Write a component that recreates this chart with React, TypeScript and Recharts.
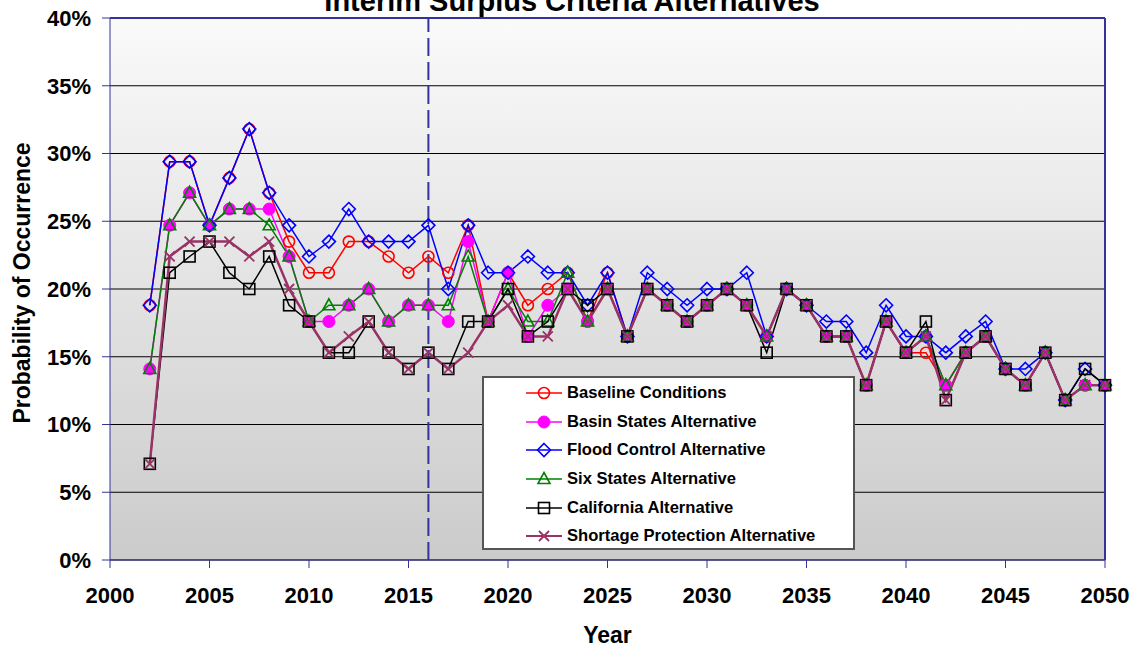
import React from "react";
import {
  CartesianGrid,
  Legend,
  Line,
  LineChart,
  ReferenceLine,
  XAxis,
  YAxis,
} from "recharts";

// years 2002 - 2050, probability in percent
const years = Array.from({ length: 49 }, (_, i) => 2002 + i);

const baseline = [
  18.8, 29.4, 29.4, 24.7, 28.2, 31.8, 27.1, 23.5, 21.2, 21.2, 23.5, 23.5, 22.4,
  21.2, 22.4, 21.2, 24.7, 17.6, 21.2, 18.8, 20.0, 21.2, 17.6, 21.2, 16.5, 20.0,
  18.8, 17.6, 18.8, 20.0, 18.8, 16.5, 20.0, 18.8, 16.5, 16.5, 12.9, 17.6, 15.3,
  15.3, 12.9, 15.3, 16.5, 14.1, 12.9, 15.3, 11.8, 12.9, 12.9,
];
const basinStates = [
  14.1, 24.7, 27.1, 24.7, 25.9, 25.9, 25.9, 22.4, 17.6, 17.6, 18.8, 20.0, 17.6,
  18.8, 18.8, 17.6, 23.5, 17.6, 21.2, 16.5, 18.8, 20.0, 17.6, 20.0, 16.5, 20.0,
  18.8, 17.6, 18.8, 20.0, 18.8, 16.5, 20.0, 18.8, 16.5, 16.5, 12.9, 17.6, 15.3,
  16.5, 12.9, 15.3, 16.5, 14.1, 12.9, 15.3, 11.8, 12.9, 12.9,
];
const floodControl = [
  18.8, 29.4, 29.4, 24.7, 28.2, 31.8, 27.1, 24.7, 22.4, 23.5, 25.9, 23.5, 23.5,
  23.5, 24.7, 20.0, 24.7, 21.2, 21.2, 22.4, 21.2, 21.2, 18.8, 21.2, 16.5, 21.2,
  20.0, 18.8, 20.0, 20.0, 21.2, 16.5, 20.0, 18.8, 17.6, 17.6, 15.3, 18.8, 16.5,
  16.5, 15.3, 16.5, 17.6, 14.1, 14.1, 15.3, 11.8, 14.1, 12.9,
];
const sixStates = [
  14.1, 24.7, 27.1, 24.7, 25.9, 25.9, 24.7, 22.4, 17.6, 18.8, 18.8, 20.0, 17.6,
  18.8, 18.8, 18.8, 22.4, 17.6, 20.0, 17.6, 17.6, 21.2, 17.6, 20.0, 16.5, 20.0,
  18.8, 17.6, 18.8, 20.0, 18.8, 16.5, 20.0, 18.8, 16.5, 16.5, 12.9, 17.6, 15.3,
  16.5, 12.9, 15.3, 16.5, 14.1, 12.9, 15.3, 11.8, 12.9, 12.9,
];
const california = [
  7.1, 21.2, 22.4, 23.5, 21.2, 20.0, 22.4, 18.8, 17.6, 15.3, 15.3, 17.6, 15.3,
  14.1, 15.3, 14.1, 17.6, 17.6, 20.0, 16.5, 17.6, 20.0, 18.8, 20.0, 16.5, 20.0,
  18.8, 17.6, 18.8, 20.0, 18.8, 15.3, 20.0, 18.8, 16.5, 16.5, 12.9, 17.6, 15.3,
  17.6, 11.8, 15.3, 16.5, 14.1, 12.9, 15.3, 11.8, 14.1, 12.9,
];
const shortage = [
  7.1, 22.4, 23.5, 23.5, 23.5, 22.4, 23.5, 20.0, 17.6, 15.3, 16.5, 17.6, 15.3,
  14.1, 15.3, 14.1, 15.3, 17.6, 18.8, 16.5, 16.5, 20.0, 17.6, 20.0, 16.5, 20.0,
  18.8, 17.6, 18.8, 20.0, 18.8, 16.5, 20.0, 18.8, 16.5, 16.5, 12.9, 17.6, 15.3,
  16.5, 11.8, 15.3, 16.5, 14.1, 12.9, 15.3, 11.8, 12.9, 12.9,
];

const xTicks = [2000, 2005, 2010, 2015, 2020, 2025, 2030, 2035, 2040, 2045, 2050];
const yTicks = [0, 5, 10, 15, 20, 25, 30, 35, 40];

const series = [
  { key: "baseline", name: "Baseline Conditions", color: "#ff0000", shape: "circle", width: 1.5 },
  { key: "basin", name: "Basin States Alternative", color: "#ff00ff", shape: "dot", width: 1.5 },
  { key: "flood", name: "Flood Control Alternative", color: "#0000ff", shape: "diamond", width: 1.5 },
  { key: "six", name: "Six States Alternative", color: "#008000", shape: "triangle", width: 1.5 },
  { key: "california", name: "California Alternative", color: "#000000", shape: "square", width: 1.5 },
  { key: "shortage", name: "Shortage Protection Alternative", color: "#993366", shape: "cross", width: 2.5 },
];

const data = years.map((year, i) => ({
  year,
  baseline: baseline[i],
  basin: basinStates[i],
  flood: floodControl[i],
  six: sixStates[i],
  california: california[i],
  shortage: shortage[i],
}));

const FONT = "Arial, 'Liberation Sans', sans-serif";
const AXIS = "#333399";

function Marker({ shape, cx, cy, color }: { shape: string; cx: number; cy: number; color: string }) {
  const sw = 1.6;
  switch (shape) {
    case "circle":
      return <circle cx={cx} cy={cy} r={5.5} fill="none" stroke={color} strokeWidth={sw} />;
    case "dot":
      return <circle cx={cx} cy={cy} r={6} fill={color} stroke={color} strokeWidth={1} />;
    case "diamond":
      return (
        <polygon
          points={`${cx},${cy - 6.5} ${cx + 6.5},${cy} ${cx},${cy + 6.5} ${cx - 6.5},${cy}`}
          fill="none"
          stroke={color}
          strokeWidth={sw}
        />
      );
    case "triangle":
      return (
        <polygon
          points={`${cx},${cy - 6.5} ${cx + 6},${cy + 4.5} ${cx - 6},${cy + 4.5}`}
          fill="none"
          stroke={color}
          strokeWidth={sw}
        />
      );
    case "square":
      return <rect x={cx - 5.5} y={cy - 5.5} width={11} height={11} fill="none" stroke={color} strokeWidth={sw} />;
    default:
      return (
        <path
          d={`M${cx - 5},${cy - 5}L${cx + 5},${cy + 5}M${cx - 5},${cy + 5}L${cx + 5},${cy - 5}`}
          stroke={color}
          strokeWidth={1.8}
        />
      );
  }
}

const LegendBox = () => (
  <div
    style={{
      position: "relative",
      width: 373,
      height: 174,
      background: "#fff",
      border: "2px solid #555",
      boxSizing: "border-box",
      fontFamily: FONT,
    }}
  >
    {series.map((s, i) => (
      <div
        key={s.key}
        style={{
          position: "absolute",
          left: 0,
          top: 1 + i * 28.6,
          height: 28.6,
          display: "flex",
          alignItems: "center",
        }}
      >
        <svg width={40} height={16} style={{ marginLeft: 40 }}>
          <line x1={2} y1={8} x2={38} y2={8} stroke={s.color} strokeWidth={s.width === 2.5 ? 2 : 1.5} />
          <Marker shape={s.shape} cx={20} cy={8} color={s.color} />
        </svg>
        <span style={{ marginLeft: 3, fontSize: 16.6, fontWeight: "bold", color: "#000", whiteSpace: "nowrap" }}>
          {s.name}
        </span>
      </div>
    ))}
  </div>
);

export default function App() {
  return (
    <div style={{ position: "absolute", left: 0, top: 0, width: 1136, height: 647, background: "#fff" }}>
      <LineChart width={1136} height={647} data={data} margin={{ top: 18, right: 31, bottom: 0, left: 0 }}>
        <defs>
          <linearGradient id="plotBg" x1="0" y1="0" x2="0" y2="1">
            <stop offset="0%" stopColor="#fafafa" />
            <stop offset="100%" stopColor="#cbcbcb" />
          </linearGradient>
        </defs>
        <text
          x={572}
          y={11}
          textAnchor="middle"
          style={{ fontFamily: FONT, fontSize: 29, fontWeight: "bold" }}
          fill="#000"
        >
          Interim Surplus Criteria Alternatives
        </text>
        <CartesianGrid vertical={false} stroke="#000" strokeWidth={1} fill="url(#plotBg)" fillOpacity={1} />
        <XAxis
          dataKey="year"
          type="number"
          domain={[2000, 2050]}
          ticks={xTicks}
          interval={0}
          height={87}
          stroke={AXIS}
          tickSize={8}
          tickMargin={19}
          tick={{ fill: "#000", fontSize: 22, fontWeight: "bold", fontFamily: FONT }}
          label={{
            content: (props: any) => {
              const vb = props.viewBox;
              return (
                <text
                  x={vb.x + vb.width / 2}
                  y={643}
                  textAnchor="middle"
                  style={{ fontFamily: FONT, fontSize: 23, fontWeight: "bold" }}
                  fill="#000"
                >
                  Year
                </text>
              );
            },
          }}
        />
        <YAxis
          domain={[0, 40]}
          ticks={yTicks}
          interval={0}
          width={110}
          stroke={AXIS}
          tickSize={8}
          tickMargin={11}
          tickFormatter={(v: number) => `${v}%`}
          tick={{ fill: "#000", fontSize: 22, fontWeight: "bold", fontFamily: FONT }}
          label={{
            content: (props: any) => {
              const vb = props.viewBox;
              const cy = vb.y + vb.height / 2 - 6;
              return (
                <text
                  x={30}
                  y={cy}
                  textAnchor="middle"
                  transform={`rotate(-90, 30, ${cy})`}
                  style={{ fontFamily: FONT, fontSize: 23, fontWeight: "bold" }}
                  fill="#000"
                >
                  Probability of Occurrence
                </text>
              );
            },
          }}
        />
        <ReferenceLine y={40} stroke={AXIS} strokeWidth={2} />
        <ReferenceLine x={2050} stroke={AXIS} strokeWidth={2} />
        <ReferenceLine x={2016} stroke={AXIS} strokeWidth={2} strokeDasharray="18 6" />
        {series.map((s) => (
          <Line
            key={s.key}
            dataKey={s.key}
            name={s.name}
            type="linear"
            stroke={s.color}
            strokeWidth={s.width}
            isAnimationActive={false}
            dot={(p: any) => (
              <g key={`${s.key}-${p.index}`}>
                <Marker shape={s.shape} cx={p.cx} cy={p.cy} color={s.color} />
              </g>
            )}
            activeDot={false}
          />
        ))}
        <Legend
          layout="vertical"
          align="center"
          verticalAlign="middle"
          content={() => <LegendBox />}
          wrapperStyle={{ position: "absolute", left: 482, top: 376, width: 373, height: 174 }}
        />
      </LineChart>
    </div>
  );
}
